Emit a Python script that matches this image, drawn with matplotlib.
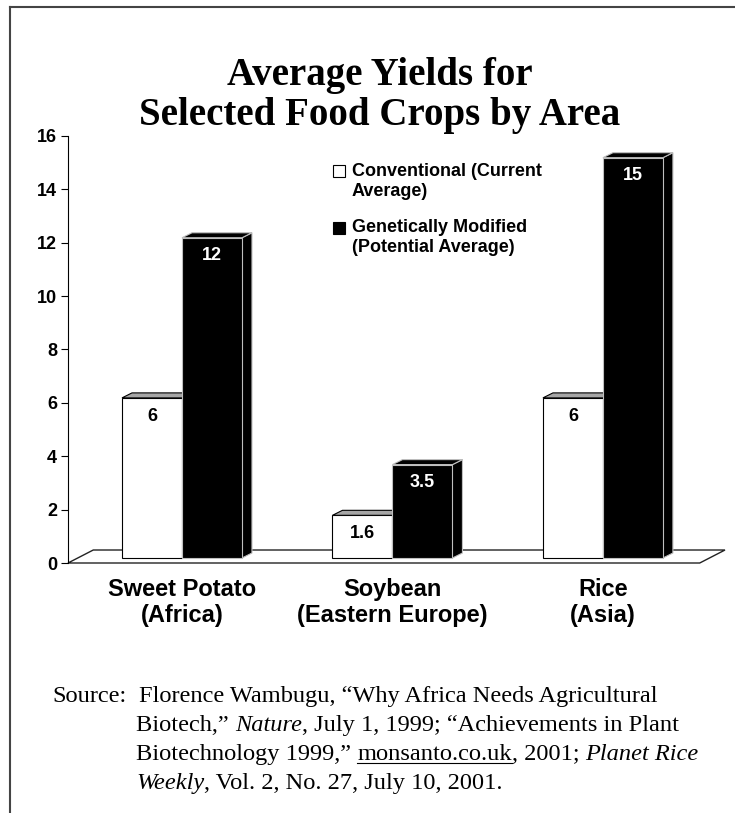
import matplotlib
matplotlib.use('Agg')
import matplotlib.pyplot as plt
from matplotlib.patches import Polygon, Rectangle
from matplotlib.lines import Line2D
import numpy as np

# data
crops = ['Sweet Potato\n(Africa)', 'Soybean\n(Eastern Europe)', 'Rice\n(Asia)']
conventional = [6, 1.6, 6]
modified = [12, 3.5, 15]
yticks = [0, 2, 4, 6, 8, 10, 12, 14, 16]
legend_labels = [['Conventional (Current', 'Average)'],
                 ['Genetically Modified', '(Potential Average)']]
title_lines = ['Average Yields for', 'Selected Food Crops by Area']
source_lines = [
    [('Florence Wambugu, \u201cWhy Africa Needs Agricultural', 'normal', False)],
    [('Biotech,\u201d ', 'normal', False), ('Nature', 'italic', False),
     (', July 1, 1999; \u201cAchievements in Plant', 'normal', False)],
    [('Biotechnology 1999,\u201d ', 'normal', False), ('monsanto.co.uk', 'normal', True),
     (', 2001; ', 'normal', False), ('Planet Rice', 'italic', False)],
    [('Weekly', 'italic', False), (', Vol. 2, No. 27, July 10, 2001.', 'normal', False)],
]

W, H = 735, 813
SANS = ['Liberation Sans', 'DejaVu Sans']
SERIF = ['Liberation Serif', 'DejaVu Serif']


def fx(px):
    return px / W


def fy(py):
    return 1 - py / H


fig = plt.figure(figsize=(W / 100, H / 100), dpi=100)
fig.patch.set_facecolor('white')

# page frame (top and left rules)
fig.add_artist(Line2D([fx(10), fx(735)], [fy(7.5), fy(7.5)], color='#444444', lw=1.5))
fig.add_artist(Line2D([fx(10), fx(10)], [fy(7.5), fy(813)], color='#444444', lw=1.5))

ax = fig.add_axes([fx(68), fy(563), (725 - 68) / W, (563 - 136) / H])
ax.set_xlim(-0.5416, 2.58)
ax.set_ylim(0, 16)

centers = np.arange(len(crops))
w = 0.285
dx, dy = 0.0475, 0.187      # bar depth
gap = 0.187                 # bars sit a little behind the floor front edge
fdx, fdy = 0.12, 0.487      # floor depth

x0, x1 = ax.get_xlim()
floor = Polygon([(x0, 0), (x1 - fdx, 0), (x1, fdy), (x0 + fdx, fdy)],
                closed=True, facecolor='white', edgecolor='#222222', lw=1.0,
                zorder=1, clip_on=False)
ax.add_patch(floor)


def draw_bar(left, val, face, edge, top_face, top_edge, label_color):
    bottom = gap
    top = gap + val
    ax.bar(left, val, width=w, bottom=bottom, align='edge', color=face,
           edgecolor=edge, lw=0.8, zorder=3)
    ax.add_patch(Polygon([(left, top), (left + w, top), (left + w + dx, top + dy),
                          (left + dx, top + dy)], closed=True, facecolor=top_face,
                         edgecolor=top_edge, lw=0.8, zorder=3))
    ax.add_patch(Polygon([(left + w, bottom), (left + w, top), (left + w + dx, top + dy),
                          (left + w + dx, bottom + dy)], closed=True, facecolor=face,
                         edgecolor=top_edge, lw=0.8, zorder=2.9))
    ax.annotate(f'{val:g}', (left + w / 2, top), xytext=(0, -7), textcoords='offset points',
                ha='center', va='top', fontsize=13, fontweight='bold', family=SANS,
                color=label_color, zorder=5)


for c, v in zip(centers, conventional):
    draw_bar(c - w, v, 'white', 'black', '#a6a6a6', 'black', 'black')
for c, v in zip(centers, modified):
    draw_bar(c, v, 'black', '#bfbfbf', 'black', '#bfbfbf', 'white')

for s in ['top', 'right', 'bottom']:
    ax.spines[s].set_visible(False)
ax.spines['left'].set_linewidth(0.8)
ax.set_yticks(yticks)
ax.set_yticklabels([str(t) for t in yticks], fontsize=13, fontweight='bold', family=SANS)
ax.tick_params(axis='y', direction='out', length=5, width=0.8, pad=3)
ax.set_xticks(centers)
ax.set_xticklabels(crops, fontsize=17, fontweight='bold', family=SANS, linespacing=1.15)
ax.tick_params(axis='x', length=0, pad=11)
ax.set_facecolor('none')

# title
fig.text(fx(380), fy(75), title_lines[0], ha='center', va='center', fontsize=28,
         fontweight='bold', family=SERIF)
fig.text(fx(380), fy(115), title_lines[1], ha='center', va='center', fontsize=28,
         fontweight='bold', family=SERIF)

# legend
leg_y = [(171, 191), (228, 248)]
for (ya, yb), lines, filled in zip(leg_y, legend_labels, [False, True]):
    fig.add_artist(Rectangle((fx(333), fy(ya + 6)), 12 / W, 12 / H,
                             transform=fig.transFigure, facecolor='black' if filled else 'white',
                             edgecolor='black', lw=0.8))
    fig.text(fx(352), fy(ya), lines[0], ha='left', va='center', fontsize=13,
             fontweight='bold', family=SANS)
    fig.text(fx(352), fy(yb), lines[1], ha='left', va='center', fontsize=13,
             fontweight='bold', family=SANS)

# source note
renderer = fig.canvas.get_renderer()
src_size = 17.6


def text_advance(s, style):
    a = fig.text(0, 0, '|' + s + '|', fontsize=src_size, family=SERIF, style=style)
    b = fig.text(0, 0, '||', fontsize=src_size, family=SERIF, style=style)
    adv = a.get_window_extent(renderer).width - b.get_window_extent(renderer).width
    a.remove()
    b.remove()
    return adv


base_y = [702, 731, 760, 789]
start_x = [139, 136, 136, 136]
fig.text(fx(52), fy(base_y[0]), 'Source:', ha='left', va='baseline', fontsize=src_size,
         family=SERIF)
for by, xs, segs in zip(base_y, start_x, source_lines):
    xpos = xs
    for s, style, underline in segs:
        t = fig.text(fx(xpos), fy(by), s, ha='left', va='baseline', fontsize=src_size,
                     family=SERIF, style=style)
        if underline:
            bb = t.get_window_extent(renderer)
            fig.add_artist(Line2D([bb.x0 / W, bb.x1 / W], [fy(by + 2.5), fy(by + 2.5)],
                                  color='black', lw=0.8))
        xpos += text_advance(s, style)

fig.savefig('out.png', dpi=100, facecolor='white')
